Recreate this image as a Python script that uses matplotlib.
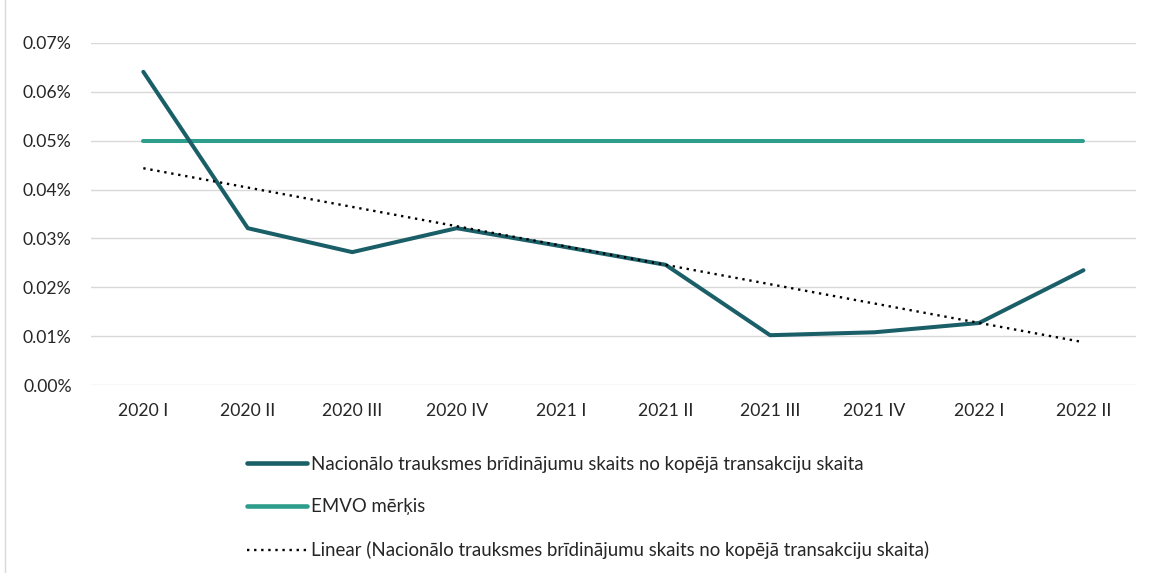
import matplotlib
matplotlib.use("Agg")
import matplotlib.pyplot as plt
import numpy as np
from matplotlib.ticker import FuncFormatter, MultipleLocator
from matplotlib.patches import Rectangle

categories = ["2020 I", "2020 II", "2020 III", "2020 IV", "2021 I",
              "2021 II", "2021 III", "2021 IV", "2022 I", "2022 II"]
national = [0.0641, 0.0321, 0.0272, 0.0321, 0.0284,
            0.0246, 0.0102, 0.0108, 0.0127, 0.0235]
target = [0.05] * 10

label_nat = "Nacionālo trauksmes brīdinājumu skaits no kopējā transakciju skaita"
label_target = "EMVO mērķis"
label_lin = "Linear (Nacionālo trauksmes brīdinājumu skaits no kopējā transakciju skaita)"

plt.rcParams['font.family'] = ['Lato', 'DejaVu Sans']

fig = plt.figure(figsize=(11.53, 5.73), dpi=100)
ax = fig.add_axes([0.079, 0.328, 0.906, 0.597])

x = np.arange(len(categories))
l1, = ax.plot(x, national, color="#1A5F67", lw=2.9, solid_capstyle="round", zorder=3)
l2, = ax.plot(x, target, color="#2E9E8C", lw=2.9, solid_capstyle="round", zorder=2)
coef = np.polyfit(x, national, 1)
trend = np.polyval(coef, x)
l3, = ax.plot(x, trend, color="black", lw=1.7, ls=(0, (1, 2)), zorder=4)

ax.set_xlim(-0.5, len(categories) - 0.5)
ax.set_ylim(0, 0.07)
ax.yaxis.set_major_locator(MultipleLocator(0.01))
ax.yaxis.set_major_formatter(FuncFormatter(lambda v, p: f"{v:.2f}%"))
ax.set_xticks(x)
ax.set_xticklabels(categories)
ax.tick_params(axis="both", length=0, labelsize=12.7, colors="#262626")
ax.tick_params(axis="x", pad=13)
ax.tick_params(axis="y", pad=14)
ax.grid(axis="y", color="#D9D9D9", lw=1)
ax.set_axisbelow(True)
for s in ax.spines.values():
    s.set_visible(False)

leg = fig.legend([l1, l2, l3], [label_nat, label_target, label_lin],
                 loc="upper left", bbox_to_anchor=(0.2, 0.234), frameon=False,
                 fontsize=13.4, handlelength=3.2, handletextpad=0.2, labelspacing=1.38,
                 labelcolor="#262626")
for h in leg.legend_handles[:2]:
    h.set_linewidth(3.3)

fig.patches.append(Rectangle((0.004, -0.01), 1.2, 1.2, transform=fig.transFigure,
                             fill=False, edgecolor="#D9D9D9", lw=1))

fig.savefig("out.png", dpi=100)
